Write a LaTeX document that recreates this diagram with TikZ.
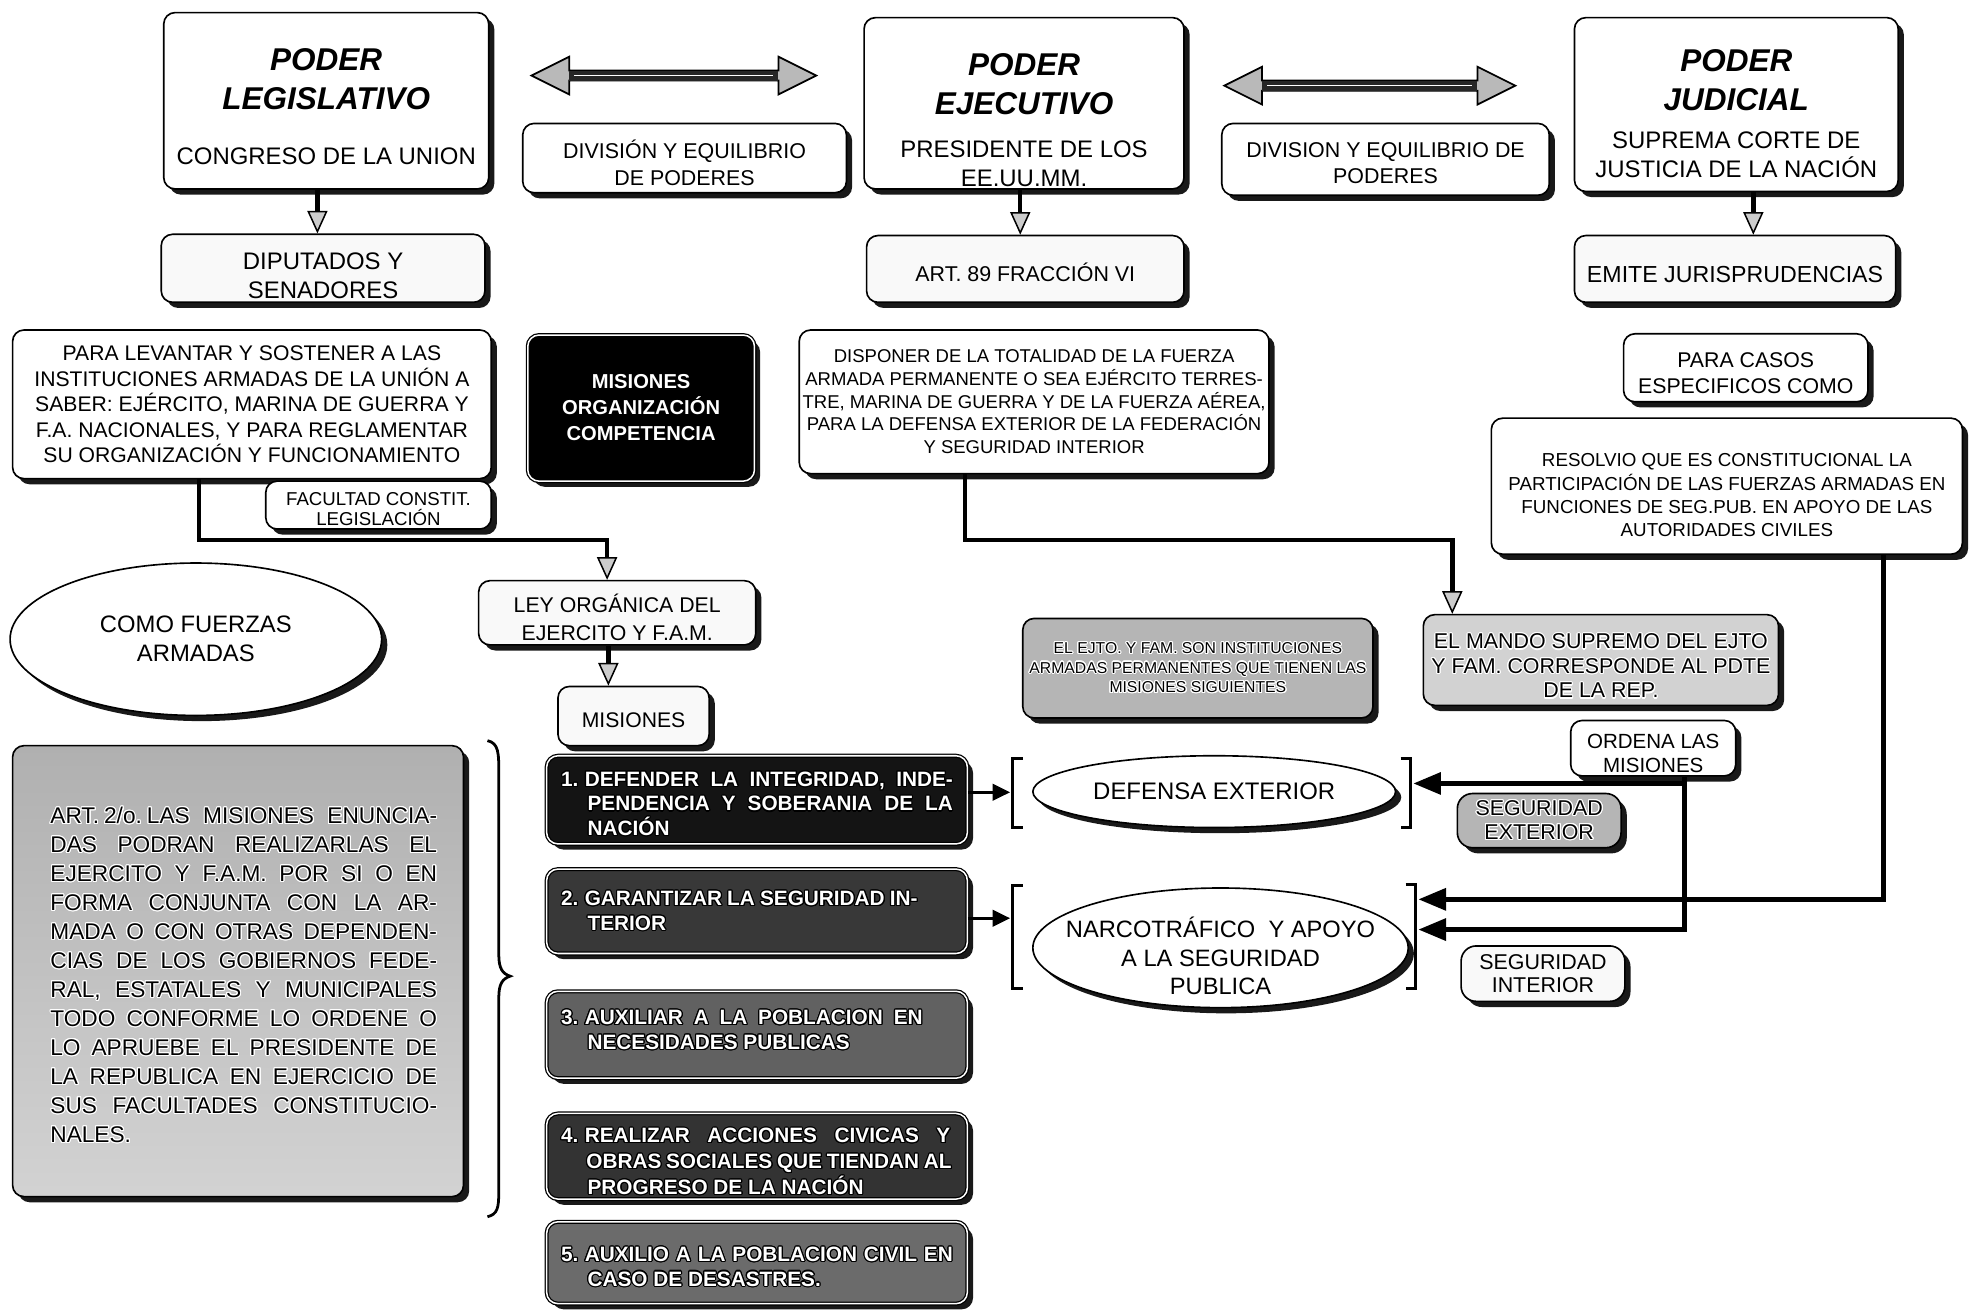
\documentclass[tikz,border=0pt]{standalone}
\usepackage{fontspec}
\setmainfont{Liberation Sans}
\usepackage{contour}
\contourlength{0.9pt}
\usetikzlibrary{shapes.geometric,arrows.meta,shadows}
\newcommand{\myfs}[2]{\fontsize{#1}{#2}\selectfont}
\newcommand{\Ttl}{\bfseries\itshape\myfs{25}{31}}
\newcommand{\Jline}[2]{\makebox[#1][s]{\spaceskip=0pt\xspaceskip=0pt #2}}
\newcommand{\Wout}[1]{\contour{black}{#1}}
\newcommand{\Bout}[1]{\contour{white}{#1}}
\newcommand{\Up}[1]{\rule{0pt}{#1}}
\newcommand{\Dp}[1]{\rule[-#1]{0pt}{#1}}
\newcommand{\Aline}[1]{\hspace*{9pt}\Bout{\Jline{307pt}{#1}}}
\newcommand{\Nsp}{\hspace{5pt}}
\begin{document}
\frenchspacing
\begin{tikzpicture}[x=1pt,y=-1pt,
  shad/.style={drop shadow={shadow xshift=4.5pt,shadow yshift=-4.5pt,fill=black,opacity=0.9}},
  box/.style={draw,line width=1.3pt,rounded corners=9pt,fill=white,inner sep=0pt,align=center,shad},
  ell/.style={draw,ellipse,line width=1.3pt,fill=white,inner sep=0pt,align=center,shad},
  dark/.style={box,double=white,double distance=1.2pt,line width=1pt,text=white},
  mis/.style={dark,minimum width=334pt,font=\bfseries\myfs{16.5}{19.5},text width=311pt,align=flush left},
  conn/.style={line width=3.5pt,-{Triangle[width=16pt,length=18pt,fill=gray!40,line width=1.2pt]}},
  marr/.style={line width=2.5pt,-{Triangle[width=13pt,length=14pt]}},
  barr/.style={line width=4pt,-{Triangle[width=17pt,length=22pt]}},
  brk/.style={line width=2.6pt},
  dbl/.style={draw,line width=1.4pt,fill=gray!55,line join=miter}]
\useasboundingbox (0,0) rectangle (1568,1041);

% ---------- top row ----------
\node[box,minimum width=258pt,minimum height=140pt,font=\myfs{19}{23}] (leg) at (259,80)
  {{\Ttl\Up{27pt}PODER}\\[8pt]{\Ttl LEGISLATIVO}\\[21pt]CONGRESO DE LA UNION};
\node[box,minimum width=254pt,minimum height=136pt,font=\myfs{19}{23}] (eje) at (813,82)
  {{\Ttl\Up{44pt}PODER}\\[8pt]{\Ttl EJECUTIVO}\\[11pt]PRESIDENTE DE LOS\\EE.UU.MM.};
\node[box,minimum width=257pt,minimum height=138pt,font=\myfs{19}{23}] (jud) at (1378.5,83)
  {{\Ttl\Up{32pt}PODER}\\[8pt]{\Ttl JUDICIAL}\\[7pt]SUPREMA CORTE DE\\JUSTICIA DE LA NACIÓN};

\node[box,minimum width=257pt,minimum height=55pt,font=\myfs{17}{21}] (div1) at (543.5,125.5)
  {\Up{22pt}DIVISIÓN Y EQUILIBRIO\\DE PODERES};
\node[box,minimum width=260pt,minimum height=57pt,font=\myfs{17}{21}] (div2) at (1100,126.5)
  {\Up{18.2pt}DIVISION Y EQUILIBRIO DE\\PODERES};

\coordinate (da1l) at (422,60); \coordinate (da1r) at (648,60);
\coordinate (da2l) at (972,68); \coordinate (da2r) at (1203,68);
\path[dbl] (da1l) -- (452,45) -- (452,56) -- (618,56) -- (618,45) -- (da1r) -- (618,75) -- (618,64) -- (452,64) -- (452,75) -- cycle;
\fill[black!85] (452,56) rectangle (618,64);
\draw[white,line width=0.9pt] (456,60) -- (614,60);
\path[dbl] (da2l) -- (1002,53) -- (1002,64) -- (1173,64) -- (1173,53) -- (da2r) -- (1173,83) -- (1173,72) -- (1002,72) -- (1002,83) -- cycle;
\fill[black!85] (1002,64) rectangle (1173,72);
\draw[white,line width=0.9pt] (1006,68) -- (1169,68);

\node[box,minimum width=257pt,minimum height=54pt,font=\myfs{19}{23},fill=gray!5] (dip) at (256.5,213)
  {\Up{25.6pt}DIPUTADOS Y\\SENADORES};
\node[box,minimum width=252pt,minimum height=53pt,font=\myfs{17}{21},fill=gray!5] (art89) at (814,213.5)
  {\Up{20pt}ART. 89 FRACCIÓN VI};
\node[box,minimum width=255pt,minimum height=53pt,font=\myfs{18.4}{22},fill=gray!5] (emite) at (1377.5,213.5)
  {\Up{21.2pt}EMITE JURISPRUDENCIAS};

\draw[conn] ([xshift=-7pt]leg.south) -- ([xshift=-7pt]leg.south |- dip.north);
\draw[conn] ([xshift=-3pt]eje.south) -- ([xshift=-3pt]eje.south |- art89.north);
\draw[conn] ([xshift=13.5pt]jud.south) -- ([xshift=13.5pt]jud.south |- emite.north);

% ---------- second row ----------
\node[box,minimum width=380pt,minimum height=118pt,font=\myfs{16.8}{20.2}] (levantar) at (200,321)
  {PARA LEVANTAR Y SOSTENER A LAS\\INSTITUCIONES ARMADAS DE LA UNIÓN A\\SABER: EJÉRCITO, MARINA DE GUERRA Y\\F.A. NACIONALES, Y PARA REGLAMENTAR\\SU ORGANIZACIÓN Y FUNCIONAMIENTO};
\node[box,minimum width=179pt,minimum height=38pt,font=\myfs{14.8}{16}] (facultad) at (300.5,401)
  {\Up{16.6pt}FACULTAD CONSTIT.\\LEGISLACIÓN};
\node[dark,fill=black,minimum width=180pt,minimum height=116pt,font=\bfseries\myfs{16}{20.5}] (misorg) at (509,324)
  {\Wout{MISIONES}\\\Wout{ORGANIZACIÓN}\\\Wout{COMPETENCIA}};
\node[box,minimum width=373pt,minimum height=114pt,font=\myfs{14.7}{18}] (disponer) at (821,319)
  {DISPONER DE LA TOTALIDAD DE LA FUERZA\\ARMADA PERMANENTE O SEA EJÉRCITO TERRES-\\TRE, MARINA DE GUERRA Y DE LA FUERZA AÉREA,\\PARA LA DEFENSA EXTERIOR DE LA FEDERACIÓN\\Y SEGURIDAD INTERIOR};
\node[box,minimum width=194pt,minimum height=54pt,font=\myfs{16.9}{21}] (casos) at (1386,292)
  {\Up{20.1pt}PARA CASOS\\ESPECIFICOS COMO};
\node[box,minimum width=374pt,minimum height=108pt,font=\myfs{14.9}{18.5}] (resolvio) at (1371,386)
  {\Up{24.7pt}RESOLVIO QUE ES CONSTITUCIONAL LA\\PARTICIPACIÓN DE LAS FUERZAS ARMADAS EN\\FUNCIONES DE SEG.PUB. EN APOYO DE LAS\\AUTORIDADES CIVILES};

% ---------- middle ----------
\node[ell,minimum width=295pt,minimum height=121pt,font=\myfs{18.9}{23}] (fuerzas) at (155.5,507.5)
  {COMO FUERZAS\\ARMADAS};
\node[box,minimum width=220pt,minimum height=51pt,font=\myfs{16.9}{22},fill=gray!5] (ley) at (490,486.5)
  {\Up{21.5pt}LEY ORGÁNICA DEL\\EJERCITO Y F.A.M.};
\node[box,minimum width=120pt,minimum height=47pt,font=\myfs{16.8}{20},fill=gray!5] (misiones) at (503,568.5)
  {\Up{18pt}MISIONES};
\node[box,minimum width=278pt,minimum height=79pt,font=\myfs{12.5}{15.5},fill=gray!58] (ejto) at (951,530.5)
  {\Bout{EL EJTO. Y FAM. SON INSTITUCIONES}\\\Bout{ARMADAS PERMANENTES QUE TIENEN LAS}\\\Bout{MISIONES SIGUIENTES}};
\node[box,minimum width=282pt,minimum height=72pt,font=\myfs{17}{19.5},fill=gray!35] (mando) at (1271,524)
  {\Up{22.2pt}\Bout{EL MANDO SUPREMO DEL EJTO}\\\Bout{Y FAM. CORRESPONDE AL PDTE}\\\Bout{DE LA REP.}};
\node[box,minimum width=131pt,minimum height=44pt,font=\myfs{16.3}{19}] (ordena) at (1312.5,594)
  {\Up{19.7pt}ORDENA LAS\\MISIONES};

\draw[conn] ([xshift=-42pt]levantar.south) -- ++(0,48) -| ([xshift=-8pt]ley.north);
\draw[conn] ([xshift=-7pt]ley.south) -- ([xshift=-7pt]ley.south |- misiones.north);
\draw[conn] ([xshift=-55pt]disponer.south) -- ++(0,52) -| ([xshift=-118pt]mando.north);

% ---------- left block ----------
\node[box,minimum width=358pt,minimum height=358pt,top color=gray!62,bottom color=gray!35,font=\myfs{18}{23},text width=316pt,align=flush left] (art2) at (189,771)
  {\Up{19.8pt}\Aline{ART.\hspace{4pt}2/o.\hspace{4pt}LAS MISIONES ENUNCIA-}\\
   \Aline{DAS PODRAN REALIZARLAS EL}\\
   \Aline{EJERCITO Y F.A.M. POR SI O EN}\\
   \Aline{FORMA CONJUNTA CON LA AR-}\\
   \Aline{MADA O CON OTRAS DEPENDEN-}\\
   \Aline{CIAS DE LOS GOBIERNOS FEDE-}\\
   \Aline{RAL, ESTATALES Y MUNICIPALES}\\
   \Aline{TODO CONFORME LO ORDENE O}\\
   \Aline{LO APRUEBE EL PRESIDENTE DE}\\
   \Aline{LA REPUBLICA EN EJERCICIO DE}\\
   \Aline{SUS FACULTADES CONSTITUCIO-}\\
   \hspace*{9pt}\Bout{NALES.}};
\draw[line width=2.2pt] (387,588) .. controls (396,590) and (396,598) .. (396,614) -- (396,758)
  .. controls (396,769) and (399,773) .. (405,775) .. controls (399,777) and (396,781) .. (396,792)
  -- (396,946) .. controls (396,959) and (395,964) .. (387,966);

% ---------- missions ----------
\node[mis,fill=black!92,minimum height=70pt] (m1) at (601,635)
  {\Up{18.7pt}\Wout{\Jline{311pt}{1.\Nsp DEFENDER LA INTEGRIDAD, INDE-}}\\\hspace*{21pt}\Wout{\Jline{290pt}{PENDENCIA Y SOBERANIA DE LA}}\\\hspace*{21pt}\Wout{NACIÓN}};
\node[mis,fill=black!78,minimum height=67pt] (m2) at (601,723.5)
  {\Wout{\Jline{283pt}{2.\Nsp GARANTIZAR LA SEGURIDAD IN-}}\\\hspace*{21pt}\Wout{TERIOR}};
\node[mis,fill=black!62,minimum height=69pt] (m3) at (601,821.5)
  {\Wout{\Jline{287pt}{3.\Nsp AUXILIAR A LA POBLACION EN}}\\\hspace*{21pt}\Wout{NECESIDADES PUBLICAS}\Dp{8pt}};
\node[mis,fill=black!80,minimum height=68pt,font=\bfseries\myfs{16.5}{20.5}] (m4) at (601,918)
  {\Up{20.7pt}\Wout{\Jline{309pt}{4.\Nsp REALIZAR ACCIONES CIVICAS Y}}\\\hspace*{20pt}\Wout{\Jline{290pt}{OBRAS SOCIALES QUE TIENDAN AL}}\\\hspace*{21pt}\Wout{PROGRESO DE LA NACIÓN}};
\node[mis,fill=black!58,minimum height=65pt] (m5) at (601,1002.5)
  {\Up{18.7pt}\Wout{\Jline{311pt}{5.\Nsp AUXILIO A LA POBLACION CIVIL EN}}\\\hspace*{21pt}\Wout{CASO DE DESASTRES.}};

% ---------- right part ----------
\node[ell,minimum width=288pt,minimum height=57pt,font=\myfs{19}{23}] (defensa) at (964,628.5)
  {DEFENSA EXTERIOR};
\node[ell,inner xsep=-45pt,inner ysep=-12pt,minimum width=298pt,minimum height=95pt,font=\myfs{18.8}{22.5}] (narco) at (969,752.5)
  {\Up{29.3pt}NARCOTRÁFICO\ \ Y APOYO\\A LA SEGURIDAD\\PUBLICA};
\node[box,rounded corners=12pt,minimum width=130pt,minimum height=43pt,font=\myfs{17}{19},fill=gray!58] (segext) at (1222,651.5)
  {\Bout{SEGURIDAD}\\\Bout{EXTERIOR}};
\node[box,rounded corners=12pt,minimum width=130pt,minimum height=44pt,font=\myfs{17}{19},fill=gray!5] (segint) at (1225,773)
  {SEGURIDAD\\INTERIOR};

\draw[brk] (812,602) -- (804,602) -- (804,657) -- (812,657);
\draw[brk] (1112,602) -- (1120,602) -- (1120,657) -- (1112,657);
\draw[brk] (812,703) -- (804,703) -- (804,785) -- (812,785);
\draw[brk] (1116,702) -- (1124,702) -- (1124,785) -- (1116,785);
\coordinate (b1l) at (802,629);
\coordinate (b2l) at (802,729);
\coordinate (b1r) at (1122,622);
\coordinate (b2ra) at (1126,714);
\coordinate (b2rb) at (1126,738);

\draw[marr] (m1.east |- b1l) -- (b1l);
\draw[marr] (m2.east |- b2l) -- (b2l);
\draw[barr] ([xshift=24.5pt]ordena.south) |- (b1r);
\draw[barr] ([xshift=24.5pt]ordena.south) |- (b2rb);
\draw[barr] ([xshift=124pt]resolvio.south) |- (b2ra);
\end{tikzpicture}
\end{document}
